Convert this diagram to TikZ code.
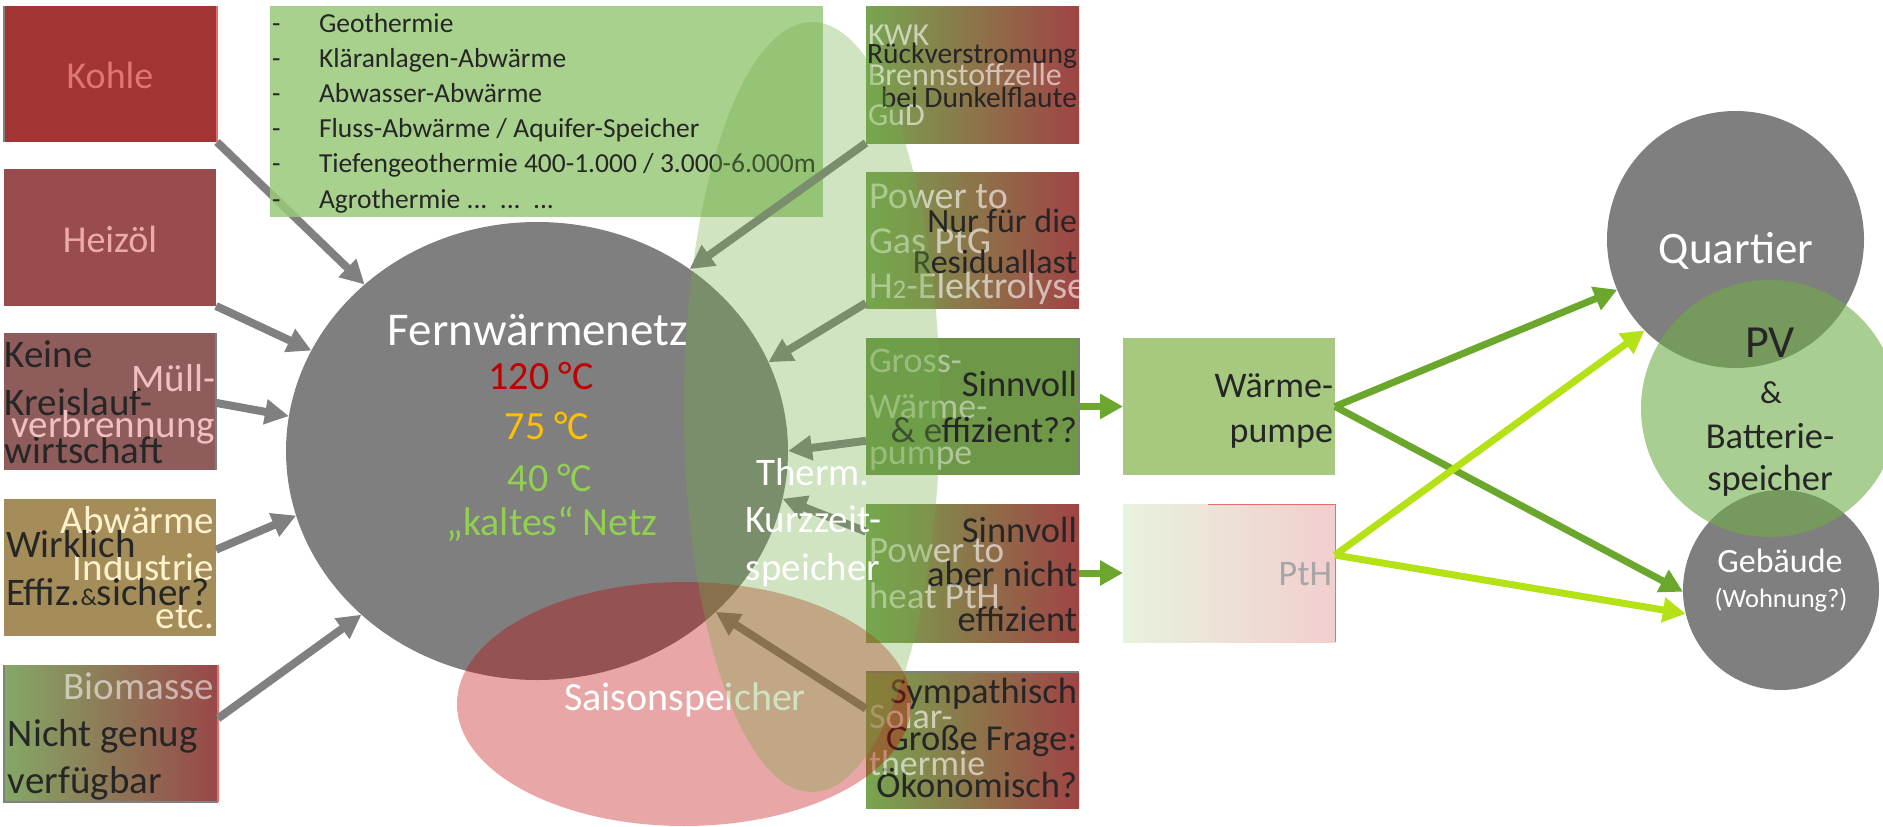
\documentclass[tikz,border=0pt]{standalone}
\usepackage{fontspec}
\setmainfont{Carlito}
\usetikzlibrary{shapes.geometric,arrows.meta,calc}
\newcommand\myfs[2]{\fontsize{#1}{#2}\selectfont}
\definecolor{koh}{RGB}{163,52,52}
\definecolor{hei}{RGB}{152,76,76}
\definecolor{mue}{RGB}{143,92,92}
\definecolor{abw}{RGB}{165,141,90}
\definecolor{dark}{RGB}{38,38,38}
\definecolor{garrow}{RGB}{128,128,128}
\definecolor{fwgray}{RGB}{127,127,127}
\definecolor{offgreen}{RGB}{112,173,71}
\definecolor{listg}{RGB}{154,201,122}
\definecolor{gl}{RGB}{120,165,80}
\definecolor{gm}{RGB}{133,175,88}
\definecolor{gr}{RGB}{160,68,68}
\definecolor{bl}{RGB}{132,168,102}
\definecolor{br}{RGB}{152,72,72}
\definecolor{gwpc}{RGB}{110,152,72}
\definecolor{wprc}{RGB}{167,201,127}
\definecolor{pthl}{RGB}{232,243,222}
\definecolor{pthr}{RGB}{242,206,206}
\definecolor{arrg}{RGB}{107,167,45}
\definecolor{arry}{RGB}{181,226,22}
\definecolor{tred}{RGB}{192,0,0}
\definecolor{tora}{RGB}{255,192,0}
\definecolor{tgre}{RGB}{146,208,80}
\definecolor{cream}{RGB}{255,242,204}
\definecolor{kohtext}{RGB}{222,118,118}
\definecolor{heitext}{RGB}{236,170,170}
\definecolor{muetext}{RGB}{242,192,192}
\definecolor{saison}{RGB}{192,0,0}
\definecolor{pthtext}{RGB}{166,166,166}
\definecolor{edgepink}{RGB}{226,110,110}
\begin{document}
\begin{tikzpicture}[x=1pt,y=-1pt,
  box/.style={draw=none,rectangle,inner sep=0pt,outer sep=0pt,anchor=north west},
  txt/.style={inner sep=0pt,outer sep=0pt,text=dark},
  light/.style={inner sep=0pt,outer sep=0pt,text=white,text opacity=0.6},
  garr/.style={draw=garrow,line width=8pt,-{Triangle[length=24pt,width=24pt]}},
  grarr/.style={draw=arrg,line width=7pt,-{Triangle[length=23pt,width=24pt]}},
  ylarr/.style={draw=arry,line width=7pt,-{Triangle[length=23pt,width=24pt]}},
  blob/.style={ellipse,inner sep=0pt,outer sep=0pt,draw=none},
  gedge/.style={draw=garrow,line width=2pt},
  pedge/.style={draw=edgepink,line width=2pt}]
\useasboundingbox (0,0) rectangle (1883,827);

% ---------- left boxes ----------
\node[box,fill=koh,minimum width=213pt,minimum height=136pt] (kohle) at (4,6) {};
\node[box,fill=hei,minimum width=212pt,minimum height=137pt] (heiz) at (4,169) {};
\node[box,fill=mue,minimum width=212pt,minimum height=137pt] (muell) at (4,333) {};
\node[box,fill=abw,minimum width=212pt,minimum height=137pt] (abw) at (4,499) {};
\node[box,left color=bl,right color=br,minimum width=214pt,minimum height=137pt] (bio) at (4,665) {};
\draw[gedge] (kohle.north west) -- (kohle.south west);
\draw[pedge] (kohle.north east) -- (kohle.south east);
\draw[gedge] (muell.north east) -- (muell.south east);
\draw[gedge] (bio.north west) -- (bio.south west) -- (bio.south east);
\draw[pedge] (bio.north east) -- (bio.south east);

% multi-line nodes: base anchor = baseline of the last line
\node[txt,text=kohtext,anchor=base,font=\myfs{38}{46}] (tkohle) at (110,88) {Kohle};
\node[txt,text=heitext,anchor=base,font=\myfs{38}{46}] (theiz) at (110,252) {Heizöl};
\node[txt,anchor=base west,align=left,font=\myfs{39}{48}] (tmuellA) at (5,463) {Keine\\Kreislauf-\\wirtschaft};
\node[txt,text=muetext,anchor=base east,align=right,font=\myfs{39}{46}] (tmuellB) at (215,437) {Müll-\\verbrennung};
\node[txt,text=cream,anchor=base east,align=right,font=\myfs{39}{47.5}] (tabwA) at (214,628) {Abwärme\\Industrie\\etc.};
\node[txt,anchor=base west,align=left,font=\myfs{39}{48}] (tabwB) at (6,605) {Wirklich\\Effiz.{\myfs{24}{24}\&}sicher?};
\node[txt,text=white,text opacity=0.55,anchor=base east,font=\myfs{39}{47}] (tbioA) at (214,699) {Biomasse};
\node[txt,anchor=base west,align=left,font=\myfs{39}{47}] (tbioB) at (8,793) {Nicht genug\\verfügbar};

% ---------- Fernwaermenetz ----------
\node[blob,fill=fwgray,minimum width=502pt,minimum height=458pt] (fw) at (537,451) {};

\draw[garr] (kohle.south east) -- (fw.136.5);
\draw[garr] (heiz.south east) -- (fw.156.4);
\draw[garr] ($(muell.north east)!0.51!(muell.south east)$) -- (fw.172.8);
\draw[garr] ($(abw.north east)!0.37!(abw.south east)$) -- (fw.195.8);
\draw[garr] ($(bio.north east)!0.39!(bio.south east)$) -- (fw.223.8);

% ---------- list box ----------
\node[box,fill=listg,fill opacity=0.85,minimum width=553pt,minimum height=211pt] (list) at (270,6) {};
\node[txt,anchor=base west,align=left,font=\myfs{27.5}{35.2}] (ldash) at (272,208) {-\\-\\-\\-\\-\\-};
\node[txt,anchor=base west,align=left,font=\myfs{27.5}{35.2}] (ltext) at (319,208) {Geothermie\\Kläranlagen-Abwärme\\Abwasser-Abwärme\\Fluss-Abwärme / Aquifer-Speicher\\Tiefengeothermie 400-1.000 / 3.000-6.000m\\Agrothermie ...~~...~~...};

% ---------- fw texts ----------
\node[txt,text=white,anchor=base,font=\myfs{47}{50}] (tfw) at (538,345) {Fernwärmenetz};
\node[txt,text=tred,anchor=base,font=\myfs{40}{44}] (t120) at (541,389) {120 °C};
\node[txt,text=tora,anchor=base,font=\myfs{40}{44}] (t75) at (547,439) {75 °C};
\node[txt,text=tgre,anchor=base,font=\myfs{40}{44}] (t40) at (550,491) {40 °C};
\node[txt,text=tgre,anchor=base,font=\myfs{40}{44}] (tkalt) at (552,535) {„kaltes“ Netz};

% ---------- right gradient boxes ----------
\node[box,left color=gl,right color=gr,minimum width=213pt,minimum height=137pt] (kwk) at (866,6) {};
\node[box,left color=gl,right color=gr,minimum width=213pt,minimum height=136pt] (ptg) at (866,172) {};
\node[box,fill=gwpc,minimum width=213pt,minimum height=137pt] (gwp) at (866,338) {};
\node[box,left color=gl,right color=gr,minimum width=213pt,minimum height=138pt] (pth) at (866,504) {};
\node[box,left color=gl,middle color=gm,right color=gr,minimum width=213pt,minimum height=136pt] (sol) at (866,672) {};
\draw[gedge] (gwp.north east) -- (gwp.south east);
\draw[gedge] (sol.north west) -- (sol.north east);

\node[light,anchor=base west,align=left,font=\myfs{32}{40}] (tkwkA) at (868,125) {KWK\\Brennstoffzelle\\GuD};
\node[txt,anchor=base east,align=right,font=\myfs{29.5}{44}] (tkwkB) at (1077,107) {Rückverstromung\\bei Dunkelflaute};
\node[light,anchor=base west,align=left,font=\myfs{38}{45}] (tptgA) at (869,298) {Power to\\Gas PtG\\H{\myfs{27}{27}2}-Elektrolyse};
\node[txt,anchor=base east,align=right,font=\myfs{34}{41}] (tptgB) at (1077,273) {Nur für die\\Residuallast};
\node[light,text opacity=0.45,anchor=base west,align=left,font=\myfs{36}{46}] (tgwpA) at (869,464) {Gross-\\Wärme-\\pumpe};
\node[txt,anchor=base east,align=right,font=\myfs{36.5}{46}] (tgwpB) at (1077,442) {Sinnvoll\\\& effizient??};
\node[txt,anchor=base east,align=right,font=\myfs{36.5}{44.5}] (tpthB) at (1077,631) {Sinnvoll\\aber nicht\\effizient};
\node[light,anchor=base west,align=left,font=\myfs{37}{46}] (tpthA) at (869,608) {Power to\\heat PtH};
\node[txt,anchor=base east,align=right,font=\myfs{36.5}{47}] (tsolB) at (1077,797) {Sympathisch\\Große Frage:\\Ökonomisch?};
\node[light,anchor=base west,align=left,font=\myfs{36}{47}] (tsolA) at (869,775) {Solar-\\thermie};

\draw[garr] (kwk.south west) -- (fw.50.5);
\draw[garr] ($(ptg.south west)+(0,-5)$) -- (fw.21.5);
\draw[garr] ($(gwp.south west)!0.25!(gwp.north west)$) -- (fw.0);
\draw[garr] ($(pth.north west)!0.2!(pth.south west)$) -- (fw.-11.5);
\draw[garr] ($(sol.north west)!0.27!(sol.south west)$) -- (fw.-42.7);

% ---------- Saisonspeicher ----------
\node[blob,fill=saison,fill opacity=0.35,minimum width=454pt,minimum height=244pt] (sais) at (684,704) {};
\node[txt,text=white,anchor=base,font=\myfs{40}{44}] (tsais) at (685,710) {Saisonspeicher};

% ---------- Kurzzeitspeicher ----------
\node[blob,fill=offgreen,fill opacity=0.33,minimum width=256pt,minimum height=770pt] (kurz) at (812,407) {};
\node[txt,text=white,anchor=base,align=center,font=\myfs{39}{47.5}] (tkurz) at (813,580) {Therm.\\Kurzzeit-\\speicher};

% ---------- Waermepumpe / PtH ----------
\node[box,fill=wprc,minimum width=212pt,minimum height=137pt] (wp) at (1123,338) {};
\node[box,left color=pthl,right color=pthr,minimum width=212pt,minimum height=138pt] (pthr) at (1123,504) {};
\draw[draw=edgepink,line width=1pt] ($(pthr.north west)!0.4!(pthr.north east)$) -- (pthr.north east) -- (pthr.south east);
\node[txt,anchor=base east,align=right,font=\myfs{36}{45}] (twp) at (1333,442) {Wärme-\\pumpe};
\node[txt,text=pthtext,anchor=base east,font=\myfs{36}{40}] (tpthr) at (1332,585) {PtH};

\draw[grarr] (gwp.east) -- (wp.west);
\draw[grarr] (pth.east) -- (pthr.west);

% ---------- right circles ----------
\node[circle,inner sep=0pt,outer sep=0pt,fill=fwgray,minimum size=257pt] (quart) at (1735.5,239.5) {};
\node[blob,fill=fwgray,minimum width=196pt,minimum height=200pt] (geb) at (1781,590) {};

\coordinate (ps) at ($(pthr.north east)!0.37!(pthr.south east)$);
\draw[grarr] (wp.east) -- (quart.203);
\draw[grarr] (wp.east) -- (geb.181);
\draw[ylarr] (ps) -- (quart.225.6);
\draw[ylarr] (ps) -- (geb.194.6);

\node[circle,inner sep=0pt,outer sep=0pt,fill=offgreen,fill opacity=0.6,minimum size=257pt] (pv) at (1769.5,408.5) {};

\node[txt,text=white,anchor=base,font=\myfs{45}{48}] (tquart) at (1736,263) {Quartier};
\node[txt,anchor=base,font=\myfs{46}{48}] (tpv) at (1770,357) {PV};
\node[txt,anchor=base,font=\myfs{32}{36}] (tamp) at (1771,403) {\&};
\node[txt,anchor=base,align=center,font=\myfs{36.5}{42}] (tbat) at (1770,490) {Batterie-\\speicher};
\node[txt,text=white,anchor=base,font=\myfs{34}{38}] (tgeb) at (1780,572) {Gebäude};
\node[txt,text=white,anchor=base,font=\myfs{26.5}{30}] (twoh) at (1781,607) {(Wohnung?)};
\end{tikzpicture}
\end{document}
